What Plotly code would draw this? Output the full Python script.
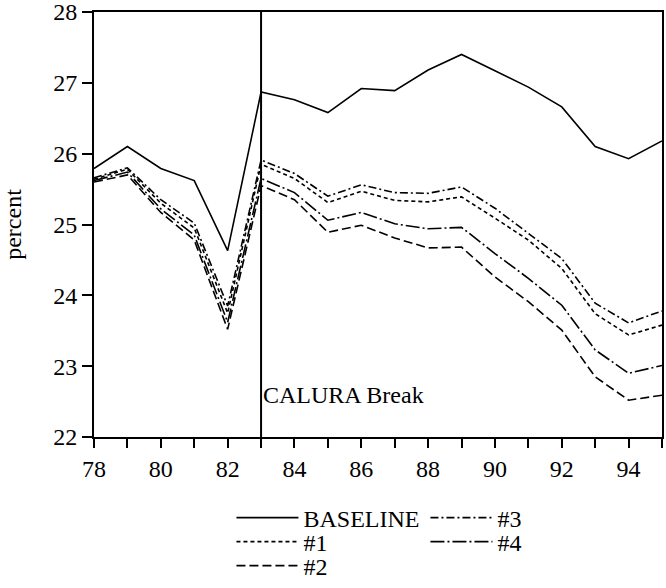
import plotly.graph_objects as go

years = list(range(78, 96))

baseline = [25.79, 26.10, 25.79, 25.62, 24.63, 26.87, 26.76, 26.58, 26.92, 26.89,
            27.18, 27.40, 27.17, 26.94, 26.66, 26.10, 25.93, 26.18]
s3 = [25.66, 25.80, 25.35, 25.02, 23.85, 25.91, 25.72, 25.40, 25.56, 25.45,
      25.44, 25.53, 25.23, 24.88, 24.52, 23.89, 23.61, 23.78]
s1 = [25.64, 25.78, 25.30, 24.95, 23.75, 25.85, 25.65, 25.31, 25.47, 25.34,
      25.32, 25.39, 25.09, 24.78, 24.38, 23.74, 23.44, 23.58]
s4 = [25.62, 25.74, 25.22, 24.85, 23.62, 25.65, 25.45, 25.06, 25.17, 25.01,
      24.94, 24.96, 24.59, 24.24, 23.86, 23.23, 22.90, 23.01]
s2 = [25.60, 25.70, 25.17, 24.78, 23.52, 25.55, 25.35, 24.89, 24.99, 24.81,
      24.67, 24.68, 24.26, 23.91, 23.51, 22.85, 22.52, 22.59]

x_tickvals = [78, 80, 82, 84, 86, 88, 90, 92, 94]
x_ticktext = ["78", "80", "82", "84", "86", "88", "90", "92", "94"]
y_tickvals = [22, 23, 24, 25, 26, 27, 28]
y_ticktext = ["22", "23", "24", "25", "26", "27", "28"]

break_year = 83
break_label = "CALURA Break"

# name, values, dash, legend row
series = [
    ("BASELINE", baseline, "solid", "legend"),
    ("#3", s3, "8px,3px,2px,3px", "legend"),
    ("#1", s1, "4px,3px", "legend2"),
    ("#4", s4, "14px,3px,2px,3px", "legend2"),
    ("#2", s2, "9px,4px", "legend3"),
]

FONT = "Liberation Serif"
FS = 24

fig = go.Figure()
for name, vals, dash, leg in series:
    fig.add_trace(go.Scatter(
        x=years, y=vals, mode="lines", name=name, legend=leg,
        line=dict(color="black", width=1.6, dash=dash),
    ))

fig.add_shape(type="line", xref="x", yref="paper", x0=break_year, x1=break_year,
              y0=0, y1=1, line=dict(color="black", width=2))
fig.add_annotation(x=break_year, y=22.6, xref="x", yref="y", text=break_label,
                   showarrow=False, xanchor="left", yanchor="middle", xshift=0,
                   font=dict(family=FONT, size=FS, color="black"))

def leg(y):
    return dict(
        orientation="h", x=0.242, y=y, xanchor="left", yanchor="middle",
        entrywidth=117, entrywidthmode="pixels", itemwidth=62,
        font=dict(family=FONT, size=FS, color="black"),
        traceorder="normal", bgcolor="rgba(0,0,0,0)",
    )

fig.update_layout(
    width=666, height=588,
    margin=dict(l=94, r=4, t=12, b=151, autoexpand=False),
    paper_bgcolor="white", plot_bgcolor="white",
    font=dict(family=FONT, size=FS, color="black"),
    showlegend=True,
    legend=leg(-0.1906),
    legend2=leg(-0.2471),
    legend3=leg(-0.3035),
)

fig.update_xaxes(
    range=[78, 95], tickvals=x_tickvals, ticktext=x_ticktext,
    showgrid=False, zeroline=False, automargin=False,
    showline=True, linecolor="black", linewidth=2, mirror=True,
    ticks="outside", ticklen=9, tickwidth=2, tickcolor="black",
    minor=dict(dtick=1, tick0=78, ticks="outside", ticklen=9, tickwidth=2, tickcolor="black", showgrid=False),
    tickfont=dict(family=FONT, size=FS, color="black"),
    ticklabeloverflow="allow",
)
fig.update_yaxes(
    range=[22, 28], tickvals=y_tickvals, ticktext=y_ticktext,
    showgrid=False, zeroline=False, automargin=False,
    showline=True, linecolor="black", linewidth=2, mirror=True,
    ticks="outside", ticklen=10, tickwidth=2, tickcolor="black",
    tickfont=dict(family=FONT, size=FS, color="black"),
    ticklabeloverflow="allow",
    title=dict(text="percent", font=dict(family=FONT, size=FS, color="black"), standoff=30),
)

fig.write_html("out.html")
